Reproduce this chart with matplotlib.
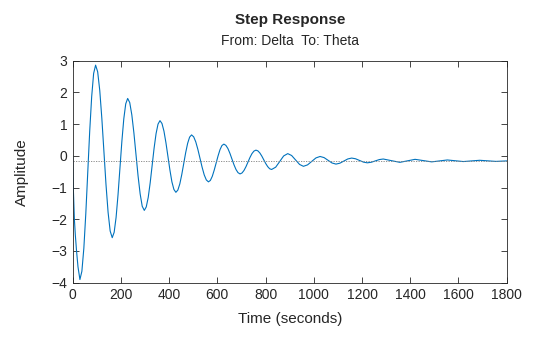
import matplotlib
matplotlib.use("Agg")
import matplotlib.pyplot as plt

plt.rcParams['font.family'] = ['Liberation Sans', 'DejaVu Sans']

# step response samples (time in s, amplitude)
time_s = [0, 1, 2.5, 7, 11, 16, 22, 30,
          38.1, 46.3, 54.4, 62.5, 70.6, 78.8, 86.9, 95,
          103.6, 112.3, 120.9, 129.5, 138.1, 146.8, 155.4, 164,
          172, 180, 188, 196, 204, 212, 220, 228,
          236.6, 245.3, 253.9, 262.5, 271.1, 279.8, 288.4, 297,
          305.1, 313.3, 321.4, 329.5, 337.6, 345.8, 353.9, 362,
          370.3, 378.5, 386.8, 395, 403.3, 411.5, 419.8, 428,
          436.1, 444.3, 452.4, 460.5, 468.6, 476.8, 484.9, 493,
          501.8, 510.5, 519.3, 528, 536.8, 545.5, 554.3, 563,
          571, 579, 587, 595, 603, 611, 619, 627,
          635.4, 643.8, 652.1, 660.5, 668.9, 677.3, 685.6, 694,
          702.3, 710.5, 718.8, 727, 735.3, 743.5, 751.8, 760,
          768.1, 776.3, 784.4, 792.5, 800.6, 808.8, 816.9, 825,
          842, 858.5, 875, 892,
          908, 924.5, 941, 957,
          974, 991.5, 1009, 1026,
          1042.5, 1059, 1075.5, 1092,
          1108, 1124.5, 1141, 1157,
          1173, 1189.5, 1206, 1222,
          1238.5, 1255, 1271.5, 1288,
          1322, 1357, 1388, 1420, 1454, 1489, 1521, 1554,
          1587, 1620, 1654, 1688, 1721, 1755, 1800]
amplitude = [0, -0.6, -1.0, -2.0, -2.5, -3.0, -3.5, -3.9,
             -3.64, -2.91, -1.82, -0.52, 0.78, 1.87, 2.60, 2.86,
             2.65, 2.06, 1.18, 0.14, -0.90, -1.78, -2.37, -2.58,
             -2.41, -1.94, -1.23, -0.385, 0.46, 1.17, 1.64, 1.81,
             1.68, 1.29, 0.72, 0.045, -0.63, -1.20, -1.59, -1.72,
             -1.61, -1.31, -0.85, -0.305, 0.24, 0.70, 1.00, 1.11,
             1.02, 0.78, 0.41, -0.02, -0.45, -0.82, -1.06, -1.15,
             -1.08, -0.885, -0.59, -0.245, 0.10, 0.395, 0.59, 0.66,
             0.60, 0.44, 0.20, -0.08, -0.36, -0.60, -0.76, -0.82,
             -0.775, -0.645, -0.45, -0.225, 0.0, 0.195, 0.325, 0.37,
             0.33, 0.23, 0.08, -0.10, -0.28, -0.43, -0.53, -0.57,
             -0.54, -0.46, -0.34, -0.195, -0.05, 0.07, 0.15, 0.18,
             0.157, 0.09, -0.008, -0.125, -0.242, -0.34, -0.407, -0.43,
             -0.357, -0.18, -0.003, 0.07,
             0.011, -0.13, -0.271, -0.33,
             -0.285, -0.175, -0.065, -0.02,
             -0.055, -0.14, -0.225, -0.26,
             -0.232, -0.165, -0.098, -0.07,
             -0.092, -0.145, -0.198, -0.22,
             -0.202, -0.16, -0.118, -0.10,
             -0.152, -0.205, -0.158, -0.11, -0.15, -0.19, -0.16, -0.13,
             -0.155, -0.18, -0.16, -0.14, -0.158, -0.175, -0.16]
steady_state = -0.16

x_ticks = [0, 200, 400, 600, 800, 1000, 1200, 1400, 1600, 1800]
y_ticks = [-4, -3, -2, -1, 0, 1, 2, 3]

fig = plt.figure(figsize=(5.6, 3.37), dpi=100)
ax = fig.add_axes([0.1298, 0.1611, 0.775, 0.6588])

ax.plot(time_s, amplitude, color='#0072BD', lw=0.8)
ax.axhline(steady_state, color='#808080', lw=0.6, ls=(0, (1.5, 1.5)))

ax.set_xlim(0, 1800)
ax.set_ylim(-4, 3)
ax.set_xticks(x_ticks)
ax.set_yticks(y_ticks)
ax.tick_params(direction='in', length=4, width=0.6, top=True, right=True,
               labelsize=10, colors='#262626', pad=4)
for sp in ax.spines.values():
    sp.set_linewidth(0.6)
    sp.set_color('#262626')

ax.set_xlabel('Time (seconds)', fontsize=11, color='#262626', labelpad=7)
ax.set_ylabel('Amplitude', fontsize=11, color='#262626', labelpad=16)

fig.text(0.518, 0.94, 'Step Response', ha='center', va='center',
         fontsize=11, fontweight='bold', color='#262626')
fig.text(0.518, 0.878, 'From: Delta  To: Theta', ha='center', va='center',
         fontsize=10, color='#262626')

fig.savefig('out.png', dpi=100)
